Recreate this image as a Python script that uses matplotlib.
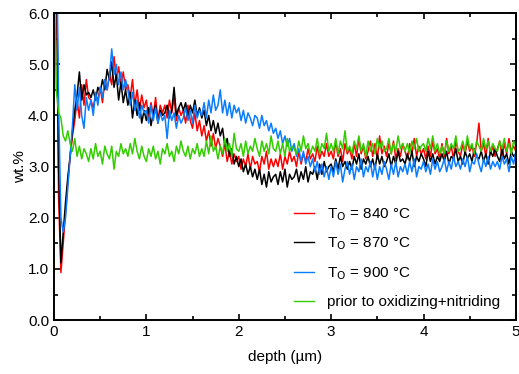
import numpy as np
import matplotlib
matplotlib.use("Agg")
import matplotlib.pyplot as plt
from matplotlib.ticker import MultipleLocator

plt.rcParams["font.family"] = ["Liberation Sans", "DejaVu Sans"]

# depth grid (um), 0.025 steps
depth = np.round(np.arange(0, 5.0001, 0.025), 3)

# ---- series values (wt.%), 8 points per 0.2 um ----
t840 = [
    9.0, 7.0, 2.4, 0.93, 1.5, 2.1, 2.7, 3.2,
    3.6, 3.9, 4.3, 3.95, 4.6, 4.2, 4.7, 4.35,
    4.3, 4.15, 4.4, 4.3, 4.55, 4.25, 4.7, 4.5,
    4.8, 4.6, 5.15, 4.7, 4.95, 4.6, 4.85, 4.5,
    4.6, 4.35, 4.7, 4.2, 4.5, 4.1, 4.4, 4.15,
    4.3, 3.95, 4.25, 4.0, 4.35, 3.9, 4.2, 4.05,
    4.2, 3.95, 4.3, 4.05, 4.35, 3.9, 4.15, 4.0,
    4.1, 3.85, 4.2, 3.9, 3.75, 4.05, 3.7, 3.9,
    3.6, 3.8, 3.5, 3.7, 3.4, 3.65, 3.35, 3.55,
    3.4, 3.2, 3.45, 3.1, 3.3, 3.05, 3.25, 3.1,
    3.2, 2.95, 3.15, 3.0, 3.25, 2.95, 3.2, 3.05,
    3.1, 2.9, 3.2, 3.05, 3.3, 2.95, 3.15, 3.0,
    3.15, 3.0, 3.25, 2.95, 3.2, 3.05, 3.3, 3.1,
    3.2, 3.0, 3.3, 3.05, 3.25, 3.1, 3.35, 3.15,
    3.25, 3.1, 3.4, 3.15, 3.3, 3.2, 3.45, 3.2,
    3.3, 3.15, 3.5, 3.2, 3.35, 3.1, 3.45, 3.25,
    3.35, 3.15, 3.45, 3.2, 3.55, 3.25, 3.4, 3.15,
    3.3, 3.5, 3.2, 3.45, 3.15, 3.6, 3.25, 3.4,
    3.2, 3.45, 3.25, 3.5, 3.15, 3.35, 3.2, 3.45,
    3.3, 3.15, 3.45, 3.25, 3.55, 3.2, 3.4, 3.25,
    3.35, 3.15, 3.4, 3.2, 3.5, 3.25, 3.35, 3.15,
    3.45, 3.2, 3.55, 3.25, 3.4, 3.15, 3.5, 3.3,
    3.2, 3.45, 3.25, 3.5, 3.3, 3.4, 3.2, 3.45,
    3.85, 3.3, 3.45, 3.2, 3.55, 3.25, 3.4, 3.2,
    3.35, 3.5, 3.2, 3.45, 3.25, 3.55, 3.3, 3.4,
    3.3,
]

t870 = [
    9.0, 7.5, 3.0, 1.12, 1.7, 2.3, 2.8, 3.2,
    3.7, 4.1, 4.4, 4.85, 4.3, 4.6, 4.4, 4.45,
    4.35, 4.5, 4.3, 4.55, 4.45, 4.7, 4.5, 4.9,
    4.7, 5.05, 4.55, 4.8, 4.3, 4.65, 4.25, 4.5,
    4.2, 4.45, 3.95, 4.3, 4.0, 4.25, 3.85, 4.1,
    3.9, 4.15, 3.8, 4.05, 4.2, 3.85, 4.1, 4.0,
    4.05, 4.2, 3.95, 4.1, 4.55, 4.0, 4.15, 4.25,
    4.1, 4.25, 3.95, 4.2, 4.05, 4.3, 4.0, 4.15,
    3.95, 4.1, 3.8, 4.0, 3.7, 3.9, 3.65, 3.85,
    3.6, 3.75, 3.4, 3.55, 3.2, 3.35, 3.05, 3.2,
    3.0, 3.15, 2.9, 3.05, 2.85, 3.0, 2.8, 2.95,
    2.75, 2.95, 2.65, 2.85, 2.6, 2.9, 2.7, 2.8,
    2.85, 2.65, 2.9, 2.7, 2.95, 2.6, 2.85, 2.75,
    2.8, 2.95, 2.7, 2.9, 2.75, 3.0, 2.7, 2.9,
    2.85, 3.0, 2.75, 3.05, 2.85, 3.1, 2.9, 3.0,
    3.05, 2.9, 3.15, 2.95, 3.2, 3.0, 3.1, 2.95,
    3.1, 2.95, 3.2, 3.05, 3.25, 2.95, 3.15, 3.05,
    3.2, 3.0, 3.15, 2.95, 3.25, 3.05, 3.2, 3.0,
    3.1, 3.25, 3.0, 3.2, 3.05, 3.3, 3.1, 3.15,
    3.05, 3.25, 3.1, 3.3, 3.0, 3.2, 3.1, 3.25,
    3.15, 3.0, 3.3, 3.1, 3.25, 3.05, 3.2, 3.1,
    3.25, 3.1, 3.3, 3.05, 3.2, 3.15, 3.35, 3.1,
    3.2, 3.05, 3.3, 3.15, 3.25, 3.1, 3.35, 3.2,
    3.15, 3.3, 3.1, 3.25, 3.05, 3.3, 3.2, 3.35,
    3.2, 3.1, 3.35, 3.15, 3.25, 3.05, 3.3, 3.2,
    3.25,
]

t900 = [
    9.0, 8.0, 4.2, 2.0, 1.72, 2.0, 2.6, 3.2,
    3.8, 4.6, 4.1, 4.55, 4.0, 3.75, 4.35, 4.1,
    4.3, 4.0, 4.45, 4.2, 4.55, 4.35, 4.7, 4.5,
    4.75, 5.3, 4.8, 5.0, 4.6, 4.85, 4.5, 4.7,
    4.5, 4.2, 4.45, 4.1, 4.3, 3.95, 4.2, 4.05,
    4.1, 3.85, 4.2, 3.9, 4.15, 3.85, 4.05, 3.9,
    4.0, 3.55, 4.1, 3.9, 4.05, 3.75, 4.0, 3.85,
    3.95, 4.15, 3.9, 4.1, 3.85, 4.2, 3.95, 4.1,
    4.0, 4.25, 3.95, 4.3, 4.05, 4.4, 4.1, 4.2,
    4.5, 4.05, 4.3, 4.0, 4.25, 3.95, 4.2, 4.05,
    4.15, 3.9, 4.1, 3.85, 4.05, 3.95, 3.8, 4.0,
    3.95, 3.75, 4.0, 3.8, 3.9, 3.7, 3.85, 3.65,
    3.75, 3.55, 3.7, 3.45, 3.6, 3.4, 3.55, 3.3,
    3.45, 3.2, 3.35, 3.1, 3.3, 3.05, 3.2, 3.0,
    3.15, 2.9, 3.1, 2.85, 3.05, 2.8, 3.0, 2.75,
    3.0, 2.8, 3.1, 2.85, 3.05, 2.7, 2.95, 3.1,
    2.85, 3.05, 2.75, 3.0, 2.9, 3.15, 2.8, 3.0,
    2.9, 3.1, 2.8, 3.05, 2.75, 3.0, 2.85, 3.1,
    2.95, 2.75, 3.05, 2.85, 3.1, 2.8, 3.0, 2.9,
    3.05, 2.85, 3.1, 2.9, 3.15, 2.8, 3.0, 2.95,
    3.1, 2.9, 3.05, 2.85, 3.15, 2.95, 3.1, 2.9,
    3.0, 3.15, 2.9, 3.1, 2.95, 3.2, 3.0, 3.1,
    2.95, 3.15, 3.0, 3.2, 2.9, 3.1, 3.05, 3.25,
    3.05, 2.9, 3.15, 3.0, 3.2, 2.95, 3.1, 3.0,
    3.1, 2.95, 3.2, 3.05, 3.15, 2.9, 3.2, 3.05,
    3.3,
]

prior = [
    7.0, 4.5, 4.05, 3.95, 3.6, 3.5, 3.7, 3.45,
    3.3, 3.55, 3.2, 3.4, 3.15, 3.35, 3.25, 3.1,
    3.35, 3.15, 3.45, 3.2, 3.3, 3.05, 3.4, 3.25,
    3.15, 3.4, 2.95, 3.3, 3.2, 3.45, 3.25, 3.35,
    3.2, 3.45, 3.25, 3.55, 3.3, 3.15, 3.4, 3.2,
    3.1, 3.35, 3.2, 3.4, 3.15, 3.3, 3.05, 3.35,
    3.25, 3.45, 3.2, 3.3, 3.1, 3.4, 3.25, 3.5,
    3.3, 3.2, 3.4, 3.15, 3.35, 3.25, 3.45, 3.2,
    3.35, 3.2, 3.5, 3.25, 3.6, 3.3, 3.4, 3.15,
    3.4, 3.25, 3.55, 3.3, 3.45, 3.2, 3.65, 3.35,
    3.3, 3.45, 3.2, 3.5, 3.25, 3.4, 3.3, 3.55,
    3.35, 3.2, 3.5, 3.3, 3.45, 3.25, 3.6, 3.35,
    3.3, 3.5, 3.25, 3.45, 3.2, 3.55, 3.3, 3.4,
    3.35, 3.25, 3.5, 3.3, 3.6, 3.35, 3.45, 3.25,
    3.4, 3.3, 3.55, 3.25, 3.45, 3.35, 3.65, 3.3,
    3.45, 3.3, 3.55, 3.25, 3.5, 3.35, 3.7, 3.3,
    3.4, 3.25, 3.5, 3.35, 3.6, 3.3, 3.45, 3.2,
    3.5, 3.3, 3.45, 3.25, 3.55, 3.35, 3.5, 3.3,
    3.35, 3.55, 3.25, 3.45, 3.3, 3.6, 3.35, 3.45,
    3.3, 3.45, 3.25, 3.5, 3.35, 3.55, 3.3, 3.4,
    3.45, 3.3, 3.55, 3.35, 3.6, 3.3, 3.45, 3.25,
    3.4, 3.25, 3.5, 3.3, 3.45, 3.35, 3.6, 3.3,
    3.35, 3.5, 3.3, 3.6, 3.35, 3.45, 3.25, 3.5,
    3.4, 3.3, 3.55, 3.35, 3.5, 3.3, 3.45, 3.35,
    3.3, 3.5, 3.35, 3.55, 3.3, 3.45, 3.25, 3.5,
    3.4,
]

labels = ["T$_\\mathrm{O}$ = 840 °C", "T$_\\mathrm{O}$ = 870 °C",
          "T$_\\mathrm{O}$ = 900 °C", "prior to oxidizing+nitriding"]
colors = ["#ff0000", "#000000", "#0a7cff", "#33cc00"]

fig = plt.figure(figsize=(5.19, 3.74), dpi=100)
ax = fig.add_axes([0.104, 0.144, 0.890, 0.821])

for ys, lab, c in zip([t840, t870, t900, prior], labels, colors):
    ax.plot(depth, ys, color=c, lw=1.1, label=lab)

ax.set_xlim(0, 5)
ax.set_ylim(0, 6)
ax.xaxis.set_major_locator(MultipleLocator(1))
ax.xaxis.set_minor_locator(MultipleLocator(0.5))
ax.yaxis.set_major_locator(MultipleLocator(1))
ax.yaxis.set_minor_locator(MultipleLocator(0.5))
ax.yaxis.set_major_formatter(plt.FormatStrFormatter("%.1f"))
ax.tick_params(which="both", direction="in", top=True, right=True,
               labelsize=11, width=1.2)
ax.tick_params(which="major", length=4)
ax.tick_params(which="minor", length=3)
for s in ax.spines.values():
    s.set_linewidth(1.4)

ax.set_xlabel("depth (µm)", fontsize=11, labelpad=8)
ax.set_ylabel("wt.%", fontsize=11, labelpad=1)

leg = ax.legend(loc="upper left", bbox_to_anchor=(0.52, 0.372), frameon=False,
                fontsize=11, handlelength=1.3, handletextpad=0.85,
                labelspacing=0.85, borderpad=0, borderaxespad=0)
for h in leg.get_lines():
    h.set_linewidth(1.0)

fig.savefig("out.png", dpi=100)
